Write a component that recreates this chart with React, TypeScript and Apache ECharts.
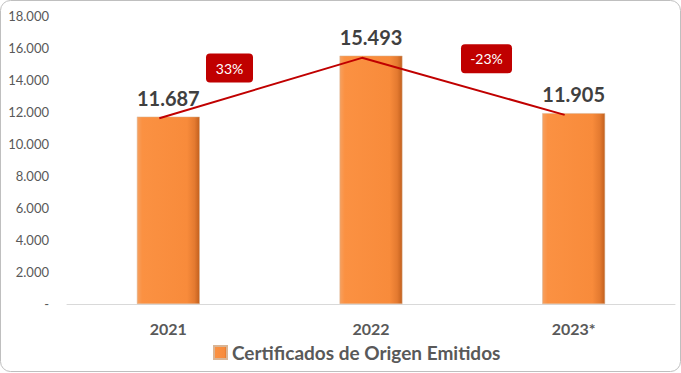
import React, { useEffect, useRef } from "react";
import * as echarts from "echarts";

const categories = ["2021", "2022", "2023*"];
const values = [11687, 15493, 11905];
const seriesName = "Certificados de Origen Emitidos";
const yTicks = [0, 2000, 4000, 6000, 8000, 10000, 12000, 14000, 16000, 18000];

const FONT = "Lato, 'Liberation Sans', sans-serif";

function fmt(v: number): string {
  if (v === 0) return "-";
  return String(Math.round(v)).replace(/\B(?=(\d{3})+(?!\d))/g, ".");
}

function pct(a: number, b: number): string {
  return Math.round((b / a - 1) * 100) + "%";
}

export default function App() {
  const ref = useRef<HTMLDivElement>(null);
  useEffect(() => {
    if (!ref.current) return;
    const chart = echarts.init(ref.current, undefined, { renderer: "svg" });
    const changes = [pct(values[0], values[1]), pct(values[1], values[2])];
    const barColor = new echarts.graphic.LinearGradient(0, 0, 1, 0, [
      { offset: 0, color: "#f6a060" },
      { offset: 0.08, color: "#fb9142" },
      { offset: 0.8, color: "#f88b3b" },
      { offset: 0.92, color: "#e47a30" },
      { offset: 1, color: "#c2601e" },
    ]);
    const badge = (cx: number, cy: number, w: number, text: string) => ({
      type: "group",
      z: 100,
      children: [
        {
          type: "rect",
          shape: { x: cx - w / 2, y: cy - 14.5, width: w, height: 29, r: 4 },
          style: { fill: "#c00000" },
        },
        {
          type: "text",
          x: cx,
          y: cy,
          style: {
            text,
            fill: "#ffffff",
            font: `14px ${FONT}`,
            align: "center",
            verticalAlign: "middle",
          },
        },
      ],
    });
    chart.setOption({
      animation: false,
      backgroundColor: "#ffffff",
      grid: [
        { left: 67, right: 6, top: 15.5, bottom: 69 },
        { left: 58, right: 15, top: 18, bottom: 69 },
      ],
      legend: {
        data: [seriesName],
        left: 208,
        top: 338,
        icon: "rect",
        itemWidth: 13,
        itemHeight: 13,
        itemGap: 5,
        textStyle: { fontFamily: FONT, fontSize: 19, fontWeight: "bold", color: "#595959" },
      },
      xAxis: [
        {
          type: "category",
          data: categories,
          gridIndex: 0,
          axisLine: { lineStyle: { color: "#d9d9d9", width: 1 } },
          axisTick: { show: false },
          axisLabel: {
            margin: 16,
            fontFamily: FONT,
            fontSize: 16,
            fontWeight: "bold",
            color: "#595959",
          },
        },
        {
          type: "category",
          data: categories,
          gridIndex: 1,
          show: false,
        },
      ],
      yAxis: [
        {
          type: "value",
          gridIndex: 0,
          min: 0,
          max: 18000,
          interval: 2000,
          splitLine: { show: false },
          axisLine: { show: false },
          axisTick: { show: false },
          axisLabel: {
            margin: 18,
            fontFamily: FONT,
            fontSize: 13,
            color: "#595959",
            formatter: (v: number) => (yTicks.includes(v) ? fmt(v) : ""),
          },
        },
        {
          type: "value",
          gridIndex: 1,
          min: 0,
          max: 18000,
          show: false,
        },
      ],
      series: [
        {
          name: seriesName,
          type: "bar",
          xAxisIndex: 0,
          yAxisIndex: 0,
          data: values,
          barWidth: "31%",
          itemStyle: { color: barColor, borderColor: "#d9b595", borderWidth: 0.5 },
          label: {
            show: true,
            position: "top",
            distance: 9,
            fontFamily: FONT,
            fontSize: 20,
            fontWeight: "bold",
            color: "#404040",
            formatter: (p: any) => fmt(p.value),
          },
        },
        {
          name: "trend",
          type: "line",
          xAxisIndex: 1,
          yAxisIndex: 1,
          data: values,
          symbol: "none",
          lineStyle: { color: "#c00000", width: 2 },
          z: 5,
        },
      ],
      graphic: [
        {
          type: "rect",
          z: -1,
          silent: true,
          shape: { x: 0.5, y: 0.5, width: 680, height: 371, r: 10 },
          style: { fill: "transparent", stroke: "#bfbfbf", lineWidth: 1 },
        },
        badge(229.5, 68, 47, changes[0]),
        badge(486.5, 58.7, 51, changes[1]),
      ],
    });
    return () => chart.dispose();
  }, []);
  return (
    <div
      ref={ref}
      style={{ position: "fixed", left: 0, top: 0, width: 681, height: 373 }}
    />
  );
}
